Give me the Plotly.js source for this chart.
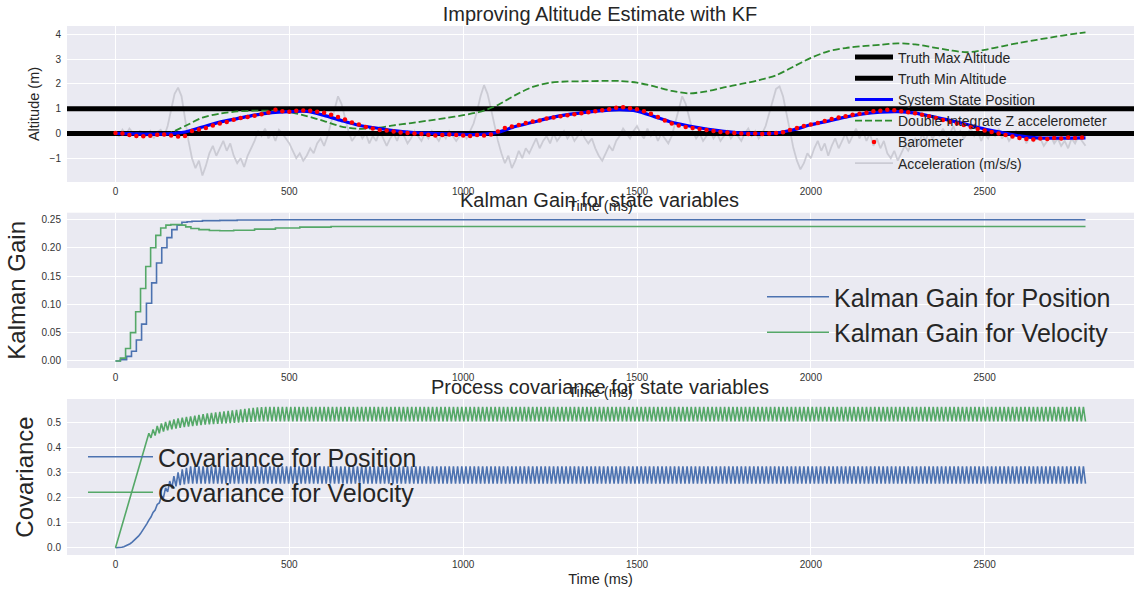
<!DOCTYPE html>
<html>
<head>
<meta charset="utf-8">
<script src="https://cdn.plot.ly/plotly-3.0.1.min.js"></script>
<style>html,body{margin:0;padding:0;background:#fff;}#chart{width:1145px;height:594px;}</style>
</head>
<body>
<div id="chart"></div>
<script>
// ---------------- DATA ----------------
// Top panel: altitude (m)
const truthMax = 1;
const truthMin = 0;
const STATE_STEP_MS = 50;
const statePosition = [0.0,-0.02,-0.03,-0.02,0.06,0.26,0.46,0.60,0.74,0.84,0.88,0.89,0.73,0.52,0.33,0.22,0.12,0.05,0.01,-0.02,
  -0.04,-0.04,0.05,0.28,0.45,0.63,0.76,0.85,0.92,0.96,0.90,0.68,0.45,0.30,0.18,0.09,0.02,-0.01,0.02,0.15,
  0.35,0.50,0.66,0.79,0.86,0.88,0.82,0.68,0.53,0.36,0.18,0.04,-0.10,-0.18,-0.19,-0.19,-0.18];
const doubleIntegrate = [0.0,0.0,-0.01,0.0,0.30,0.64,0.80,0.89,0.92,0.92,0.86,0.70,0.50,0.28,0.19,0.22,0.33,0.42,0.52,0.62,
  0.74,0.88,1.15,1.55,1.88,2.05,2.10,2.11,2.12,2.12,2.05,1.90,1.72,1.62,1.70,1.86,2.00,2.15,2.35,2.70,
  3.05,3.32,3.45,3.53,3.58,3.64,3.60,3.48,3.36,3.28,3.38,3.52,3.66,3.78,3.90,4.01,4.08];
const BARO_STEP_MS = 20;
const barometer = [0.02,0.00,-0.06,-0.10,-0.11,-0.09,-0.05,-0.04,-0.08,-0.12,
  -0.10,0.10,0.16,0.22,0.32,0.40,0.46,0.55,0.62,0.66,
  0.72,0.78,0.85,0.96,0.90,0.88,0.92,0.93,0.92,0.88,
  0.84,0.76,0.66,0.56,0.44,0.36,0.26,0.20,0.14,0.12,
  0.08,0.04,0.02,0.00,-0.02,-0.05,-0.08,-0.06,-0.04,-0.06,
  -0.08,-0.10,-0.06,-0.08,-0.04,0.08,0.22,0.28,0.34,0.42,
  0.48,0.52,0.60,0.64,0.70,0.74,0.78,0.82,0.86,0.90,
  0.94,0.98,1.04,1.06,1.02,0.98,0.90,0.80,0.66,0.52,
  0.40,0.32,0.26,0.22,0.18,0.14,0.10,0.06,0.04,0.02,
  0.00,-0.02,0.00,-0.02,0.00,0.02,0.05,0.14,0.22,0.30,
  0.36,0.42,0.50,0.58,0.64,0.70,0.76,0.80,0.84,0.90,
  0.92,0.96,0.94,0.90,0.86,0.82,0.76,0.70,0.62,0.54,
  0.46,0.40,0.34,0.26,0.18,0.12,0.06,0.00,-0.06,-0.12,
  -0.18,-0.22,-0.24,-0.20,-0.22,-0.18,-0.20,-0.16,-0.18,-0.16];
const ACCEL_STEP_MS = 10;
const acceleration = [0.05,-0.1,0.15,-0.05,0.2,0.0,-0.15,0.1,0.05,-0.1,
  0.1,-0.2,0.05,0.15,-0.1,0.3,0.9,1.6,1.85,1.5,
  0.6,-0.3,-1.0,-1.4,-1.1,-1.7,-1.3,-0.8,-0.5,-0.9,
  -0.6,-0.3,-0.7,-0.4,-0.9,-1.2,-1.0,-1.35,-0.9,-0.6,
  -0.3,0.1,-0.1,0.2,-0.2,0.05,-0.3,0.15,0.0,-0.2,
  -0.4,-0.7,-1.0,-0.8,-1.1,-0.9,-0.6,-0.8,-0.4,-0.2,
  -0.5,-0.1,0.4,1.0,1.5,1.2,0.6,0.1,-0.3,-0.1,
  0.1,-0.2,0.0,-0.4,-0.1,-0.3,0.1,-0.2,-0.5,-0.2,
  0.0,-0.3,0.1,-0.1,-0.4,-0.2,0.1,-0.1,-0.3,0.0,
  -0.2,0.1,-0.1,-0.3,0.0,-0.2,0.1,-0.1,-0.3,-0.1,
  0.0,-0.2,0.1,0.4,0.9,1.5,1.95,1.6,1.0,0.3,
  -0.3,-0.8,-1.2,-0.9,-1.4,-1.1,-0.7,-1.0,-0.6,-0.8,
  -0.5,-0.2,-0.6,-0.3,-0.1,-0.4,0.0,-0.3,-0.1,0.1,
  -0.2,0.0,-0.3,-0.1,0.1,-0.2,-0.4,-0.2,-0.6,-0.9,
  -1.1,-0.8,-0.5,-0.7,-0.3,-0.1,0.2,0.0,-0.2,0.1,
  0.3,0.0,-0.2,0.2,-0.1,0.1,-0.3,0.0,-0.2,-0.4,
  -0.1,0.4,1.0,1.5,1.2,0.6,0.1,-0.2,0.0,-0.3,
  -0.1,0.1,-0.2,0.0,-0.3,-0.1,0.1,-0.2,0.0,-0.1,
  -0.3,0.0,0.2,-0.1,0.1,-0.2,0.0,0.3,0.8,1.4,
  1.8,1.9,1.5,0.8,0.1,-0.6,-1.1,-1.45,-1.2,-0.8,
  -1.0,-0.6,-0.3,-0.7,-0.4,-0.9,-0.5,-0.2,-0.6,-0.3,
  0.0,-0.4,-0.1,0.2,-0.2,0.1,-0.3,0.0,-0.5,-0.2,
  -0.6,-0.3,-0.8,-1.0,-0.7,-1.1,-0.8,-0.5,-0.7,-0.4,
  -0.2,-0.5,0.0,-0.3,0.1,-0.2,0.0,-0.1,0.2,-0.1,
  0.0,0.3,-0.1,0.1,-0.2,0.0,0.2,-0.1,0.1,-0.3,
  0.0,-0.2,0.1,-0.1,0.2,-0.2,0.0,-0.3,-0.1,0.1,
  -0.2,0.0,-0.4,-0.1,-0.3,0.0,-0.2,-0.5,-0.3,-0.1,
  -0.4,-0.2,-0.5,-0.3,-0.6,-0.2,-0.4,-0.1,-0.3,-0.5];

// Middle panel: Kalman gain
const gainPosTime = [0,14,32,46,60,75,89,104,118,133,148,162,177,191,206,220,250,300,350,450,2790];
const gainPosition = [0,0.002,0.008,0.017,0.037,0.065,0.102,0.138,0.173,0.200,0.218,0.232,0.240,0.245,0.246,0.247,0.248,0.2485,0.249,0.2495,0.2495];
const gainVelTime = [0,14,29,43,58,72,87,101,116,130,145,159,173,188,202,217,240,270,300,340,400,460,530,620,2790];
const gainVelocity = [0,0.005,0.022,0.050,0.087,0.128,0.167,0.200,0.222,0.235,0.240,0.241,0.241,0.240,0.237,0.234,0.232,0.2305,0.2300,0.2310,0.2330,0.2350,0.2365,0.2375,0.2375];

// Bottom panel: process covariance (one value per filter step)
const COV_STEP_MS = 6;
const covPosition = [0,0.000,0.001,0.002,0.004,0.007,0.011,0.016,0.022,0.029,
  0.037,0.046,0.056,0.068,0.081,0.095,0.110,0.122,0.140,0.150,
  0.172,0.178,0.205,0.200,0.238,0.222,0.265,0.236,0.285,0.244,
  0.300,0.249,0.312,0.252,0.318,
  0.255,0.324,0.255,0.324,0.255,0.324,0.255,0.324,0.255,0.324,0.255,0.324,0.255,0.324,0.255,0.324,0.255,0.324,0.255,0.324,
  0.255,0.324,0.255,0.324,0.255,0.324,0.255,0.324,0.255,0.324,0.255,0.324,0.255,0.324,0.255,0.324,0.255,0.324,0.255,0.324,
  0.255,0.324,0.255,0.324,0.255,0.324,0.255,0.324,0.255,0.324,0.255,0.324,0.255,0.324,0.255,0.324,0.255,0.324,0.255,0.324,
  0.255,0.324,0.255,0.324,0.255,0.324,0.255,0.324,0.255,0.324,0.255,0.324,0.255,0.324,0.255,0.324,0.255,0.324,0.255,0.324,
  0.255,0.324,0.255,0.324,0.255,0.324,0.255,0.324,0.255,0.324,0.255,0.324,0.255,0.324,0.255,0.324,0.255,0.324,0.255,0.324,
  0.255,0.324,0.255,0.324,0.255,0.324,0.255,0.324,0.255,0.324,0.255,0.324,0.255,0.324,0.255,0.324,0.255,0.324,0.255,0.324,
  0.255,0.324,0.255,0.324,0.255,0.324,0.255,0.324,0.255,0.324,0.255,0.324,0.255,0.324,0.255,0.324,0.255,0.324,0.255,0.324,
  0.255,0.324,0.255,0.324,0.255,0.324,0.255,0.324,0.255,0.324,0.255,0.324,0.255,0.324,0.255,0.324,0.255,0.324,0.255,0.324,
  0.255,0.324,0.255,0.324,0.255,0.324,0.255,0.324,0.255,0.324,0.255,0.324,0.255,0.324,0.255,0.324,0.255,0.324,0.255,0.324,
  0.255,0.324,0.255,0.324,0.255,0.324,0.255,0.324,0.255,0.324,0.255,0.324,0.255,0.324,0.255,0.324,0.255,0.324,0.255,0.324,
  0.255,0.324,0.255,0.324,0.255,0.324,0.255,0.324,0.255,0.324,0.255,0.324,0.255,0.324,0.255,0.324,0.255,0.324,0.255,0.324,
  0.255,0.324,0.255,0.324,0.255,0.324,0.255,0.324,0.255,0.324,0.255,0.324,0.255,0.324,0.255,0.324,0.255,0.324,0.255,0.324,
  0.255,0.324,0.255,0.324,0.255,0.324,0.255,0.324,0.255,0.324,0.255,0.324,0.255,0.324,0.255,0.324,0.255,0.324,0.255,0.324,
  0.255,0.324,0.255,0.324,0.255,0.324,0.255,0.324,0.255,0.324,0.255,0.324,0.255,0.324,0.255,0.324,0.255,0.324,0.255,0.324,
  0.255,0.324,0.255,0.324,0.255,0.324,0.255,0.324,0.255,0.324,0.255,0.324,0.255,0.324,0.255,0.324,0.255,0.324,0.255,0.324,
  0.255,0.324,0.255,0.324,0.255,0.324,0.255,0.324,0.255,0.324,0.255,0.324,0.255,0.324,0.255,0.324,0.255,0.324,0.255,0.324,
  0.255,0.324,0.255,0.324,0.255,0.324,0.255,0.324,0.255,0.324,0.255,0.324,0.255,0.324,0.255,0.324,0.255,0.324,0.255,0.324,
  0.255,0.324,0.255,0.324,0.255,0.324,0.255,0.324,0.255,0.324,0.255,0.324,0.255,0.324,0.255,0.324,0.255,0.324,0.255,0.324,
  0.255,0.324,0.255,0.324,0.255,0.324,0.255,0.324,0.255,0.324,0.255,0.324,0.255,0.324,0.255,0.324,0.255,0.324,0.255,0.324,
  0.255,0.324,0.255,0.324,0.255,0.324,0.255,0.324,0.255,0.324,0.255,0.324,0.255,0.324,0.255,0.324,0.255,0.324,0.255,0.324,
  0.255,0.324,0.255,0.324,0.255,0.324,0.255,0.324,0.255,0.324,0.255,0.324,0.255,0.324,0.255,0.324,0.255,0.324,0.255,0.324,
  0.255,0.324,0.255,0.324,0.255,0.324,0.255,0.324,0.255,0.324,0.255];
const covVelocity = [0,0.029,0.058,0.087,0.116,0.145,0.174,0.203,0.232,0.261,
  0.290,0.319,0.348,0.377,0.404,0.428,0.455,0.437,0.470,0.446,
  0.484,0.455,0.494,0.462,0.500,0.467,0.505,0.471,0.510,0.474,
  0.514,0.477,0.517,0.480,0.520,
  0.482,0.522,0.484,0.525,0.486,0.528,0.488,0.531,0.490,0.534,0.491,0.536,0.492,0.538,0.493,0.540,0.494,0.542,0.495,0.544,
  0.496,0.546,0.497,0.548,0.498,0.550,0.499,0.552,0.500,0.554,0.500,0.556,0.501,0.558,0.502,0.559,0.502,0.560,
  0.502,0.560,0.502,0.560,0.502,0.560,0.502,0.560,0.502,0.560,0.502,0.560,0.502,0.560,0.502,0.560,0.502,0.560,0.502,0.560,
  0.502,0.560,0.502,0.560,0.502,0.560,0.502,0.560,0.502,0.560,0.502,0.560,0.502,0.560,0.502,0.560,0.502,0.560,0.502,0.560,
  0.502,0.560,0.502,0.560,0.502,0.560,0.502,0.560,0.502,0.560,0.502,0.560,0.502,0.560,0.502,0.560,0.502,0.560,0.502,0.560,
  0.502,0.560,0.502,0.560,0.502,0.560,0.502,0.560,0.502,0.560,0.502,0.560,0.502,0.560,0.502,0.560,0.502,0.560,0.502,0.560,
  0.502,0.560,0.502,0.560,0.502,0.560,0.502,0.560,0.502,0.560,0.502,0.560,0.502,0.560,0.502,0.560,0.502,0.560,0.502,0.560,
  0.502,0.560,0.502,0.560,0.502,0.560,0.502,0.560,0.502,0.560,0.502,0.560,0.502,0.560,0.502,0.560,0.502,0.560,0.502,0.560,
  0.502,0.560,0.502,0.560,0.502,0.560,0.502,0.560,0.502,0.560,0.502,0.560,0.502,0.560,0.502,0.560,0.502,0.560,0.502,0.560,
  0.502,0.560,0.502,0.560,0.502,0.560,0.502,0.560,0.502,0.560,0.502,0.560,0.502,0.560,0.502,0.560,0.502,0.560,0.502,0.560,
  0.502,0.560,0.502,0.560,0.502,0.560,0.502,0.560,0.502,0.560,0.502,0.560,0.502,0.560,0.502,0.560,0.502,0.560,0.502,0.560,
  0.502,0.560,0.502,0.560,0.502,0.560,0.502,0.560,0.502,0.560,0.502,0.560,0.502,0.560,0.502,0.560,0.502,0.560,0.502,0.560,
  0.502,0.560,0.502,0.560,0.502,0.560,0.502,0.560,0.502,0.560,0.502,0.560,0.502,0.560,0.502,0.560,0.502,0.560,0.502,0.560,
  0.502,0.560,0.502,0.560,0.502,0.560,0.502,0.560,0.502,0.560,0.502,0.560,0.502,0.560,0.502,0.560,0.502,0.560,0.502,0.560,
  0.502,0.560,0.502,0.560,0.502,0.560,0.502,0.560,0.502,0.560,0.502,0.560,0.502,0.560,0.502,0.560,0.502,0.560,0.502,0.560,
  0.502,0.560,0.502,0.560,0.502,0.560,0.502,0.560,0.502,0.560,0.502,0.560,0.502,0.560,0.502,0.560,0.502,0.560,0.502,0.560,
  0.502,0.560,0.502,0.560,0.502,0.560,0.502,0.560,0.502,0.560,0.502,0.560,0.502,0.560,0.502,0.560,0.502,0.560,0.502,0.560,
  0.502,0.560,0.502,0.560,0.502,0.560,0.502,0.560,0.502,0.560,0.502,0.560,0.502,0.560,0.502,0.560,0.502,0.560,0.502,0.560,
  0.502,0.560,0.502,0.560,0.502,0.560,0.502,0.560,0.502,0.560,0.502,0.560,0.502,0.560,0.502,0.560,0.502,0.560,0.502,0.560,
  0.502,0.560,0.502,0.560,0.502,0.560,0.502,0.560,0.502,0.560,0.502,0.560,0.502,0.560,0.502,0.560,0.502,0.560,0.502,0.560,
  0.502,0.560,0.502,0.560,0.502,0.560,0.502,0.560,0.502,0.560,0.502,0.560,0.502,0.560,0.502,0.560,0.502,0.560,0.502,0.560,
  0.502,0.560,0.502,0.560,0.502,0.560,0.502,0.560,0.502,0.560,0.502,0.560,0.502];

const xTickVals = [0,500,1000,1500,2000,2500];

// ---------------- BUILD ----------------
const idxTime = (arr, step) => arr.map((_, i) => i * step);
const X_RANGE = [-139.5, 2929.5];
const FONT = 'Liberation Sans, Arial, sans-serif';
const TXT = '#262626';
const BLUE_SNS = '#4C72B0', GREEN_SNS = '#55A868';

const traces = [
  {x: idxTime(acceleration, ACCEL_STEP_MS), y: acceleration, type: 'scatter', mode: 'lines', name: 'Acceleration (m/s/s)',
   line: {color: 'rgba(200,200,208,0.9)', width: 1.8}, xaxis: 'x', yaxis: 'y', legend: 'legend', legendrank: 6},
  {x: X_RANGE, y: [truthMax, truthMax], type: 'scatter', mode: 'lines', name: 'Truth Max Altitude',
   line: {color: '#000', width: 5}, xaxis: 'x', yaxis: 'y', legend: 'legend', legendrank: 1},
  {x: X_RANGE, y: [truthMin, truthMin], type: 'scatter', mode: 'lines', name: 'Truth Min Altitude',
   line: {color: '#000', width: 5}, xaxis: 'x', yaxis: 'y', legend: 'legend', legendrank: 2},
  {x: idxTime(doubleIntegrate, STATE_STEP_MS).map((t,i,a)=> i===a.length-1 ? 2790 : t), y: doubleIntegrate, type: 'scatter', mode: 'lines',
   name: 'Double Integrate Z accelerometer', line: {color: '#2E8B2E', width: 1.8, dash: '7px,3px', shape: 'spline', smoothing: 0.8},
   xaxis: 'x', yaxis: 'y', legend: 'legend', legendrank: 4},
  {x: idxTime(statePosition, STATE_STEP_MS).map((t,i,a)=> i===a.length-1 ? 2790 : t), y: statePosition, type: 'scatter', mode: 'lines',
   name: 'System State Position', line: {color: '#0000FF', width: 3.2, shape: 'spline', smoothing: 0.8},
   xaxis: 'x', yaxis: 'y', legend: 'legend', legendrank: 3},
  {x: idxTime(barometer, BARO_STEP_MS), y: barometer, type: 'scatter', mode: 'markers', name: 'Barometer',
   marker: {color: '#FF0000', size: 4.5}, xaxis: 'x', yaxis: 'y', legend: 'legend', legendrank: 5},

  {x: gainPosTime, y: gainPosition, type: 'scatter', mode: 'lines', name: 'Kalman Gain for Position',
   line: {color: BLUE_SNS, width: 1.6, shape: 'hv'}, xaxis: 'x2', yaxis: 'y2', legend: 'legend2'},
  {x: gainVelTime, y: gainVelocity, type: 'scatter', mode: 'lines', name: 'Kalman Gain for Velocity',
   line: {color: GREEN_SNS, width: 1.6, shape: 'hv'}, xaxis: 'x2', yaxis: 'y2', legend: 'legend2'},

  {x: idxTime(covPosition, COV_STEP_MS), y: covPosition, type: 'scatter', mode: 'lines', name: 'Covariance for Position',
   line: {color: BLUE_SNS, width: 1.6}, xaxis: 'x3', yaxis: 'y3', legend: 'legend3'},
  {x: idxTime(covVelocity, COV_STEP_MS), y: covVelocity, type: 'scatter', mode: 'lines', name: 'Covariance for Velocity',
   line: {color: GREEN_SNS, width: 1.6}, xaxis: 'x3', yaxis: 'y3', legend: 'legend3'}
];

const W = 1145, H = 594;
const px2x = p => p / W;
const py2y = p => 1 - p / H;

function xAxis(anchor) {
  return {
    domain: [px2x(67), px2x(1134)], anchor: anchor, range: X_RANGE, tickvals: xTickVals,
    showgrid: true, gridcolor: '#FFFFFF', gridwidth: 1, zeroline: false, showline: false, ticks: '',
    tickfont: {family: FONT, size: 10, color: '#333'}, ticklabelstandoff: 2, automargin: false,
    title: {text: 'Time (ms)', font: {family: FONT, size: 14.5, color: TXT}, standoff: 4}
  };
}
function yAxis(anchor, top, bottom, range, tickvals, fmt, title, tsize, standoff) {
  return {
    domain: [py2y(bottom), py2y(top)], anchor: anchor, range: range, tickvals: tickvals, tickformat: fmt,
    showgrid: true, gridcolor: '#FFFFFF', gridwidth: 1, zeroline: false, showline: false, ticks: '',
    tickfont: {family: FONT, size: 10, color: '#333'}, ticklabelstandoff: 5, automargin: false,
    title: {text: title, font: {family: FONT, size: tsize, color: TXT}, standoff: standoff}
  };
}

const layout = {
  width: W, height: H,
  margin: {l: 0, r: 0, t: 0, b: 0},
  paper_bgcolor: '#FFFFFF', plot_bgcolor: '#EAEAF2',
  font: {family: FONT, color: TXT},
  title: {text: 'Improving Altitude Estimate with KF', font: {family: FONT, size: 20, color: TXT},
          x: 0.524, xanchor: 'center', y: py2y(13.5), yanchor: 'middle'},
  xaxis: xAxis('y'), xaxis2: xAxis('y2'), xaxis3: xAxis('y3'),
  yaxis: yAxis('x', 26, 182, [-1.96, 4.34], [-1,0,1,2,3,4], 'd', 'Altitude (m)', 14.5, 6),
  yaxis2: yAxis('x2', 212.7, 368, [-0.0125, 0.262], [0,0.05,0.10,0.15,0.20,0.25], '.2f', 'Kalman Gain', 24, 9),
  yaxis3: yAxis('x3', 399, 555, [-0.029, 0.5915], [0,0.1,0.2,0.3,0.4,0.5], '.1f', 'Covariance', 24, 6),
  legend: {x: px2x(850), y: py2y(41.5), xanchor: 'left', yanchor: 'top', bgcolor: 'rgba(0,0,0,0)',
           font: {family: FONT, size: 14, color: TXT}, traceorder: 'normal', itemwidth: 38},
  legend2: {x: px2x(762), y: py2y(274), xanchor: 'left', yanchor: 'top', bgcolor: 'rgba(0,0,0,0)',
            font: {family: FONT, size: 25, color: TXT}, itemwidth: 62},
  legend3: {x: px2x(83), y: py2y(434), xanchor: 'left', yanchor: 'top', bgcolor: 'rgba(0,0,0,0)',
            font: {family: FONT, size: 25, color: TXT}, itemwidth: 65},
  annotations: [
    {text: 'Kalman Gain for state variables', xref: 'paper', yref: 'paper', x: 0.524, y: py2y(200),
     xanchor: 'center', yanchor: 'middle', showarrow: false, font: {family: FONT, size: 20, color: TXT}},
    {text: 'Process covariance for state variables', xref: 'paper', yref: 'paper', x: 0.524, y: py2y(387),
     xanchor: 'center', yanchor: 'middle', showarrow: false, font: {family: FONT, size: 20, color: TXT}}
  ],
  showlegend: true
};

Plotly.newPlot('chart', traces, layout, {displayModeBar: false, staticPlot: true});
</script>
</body>
</html>
